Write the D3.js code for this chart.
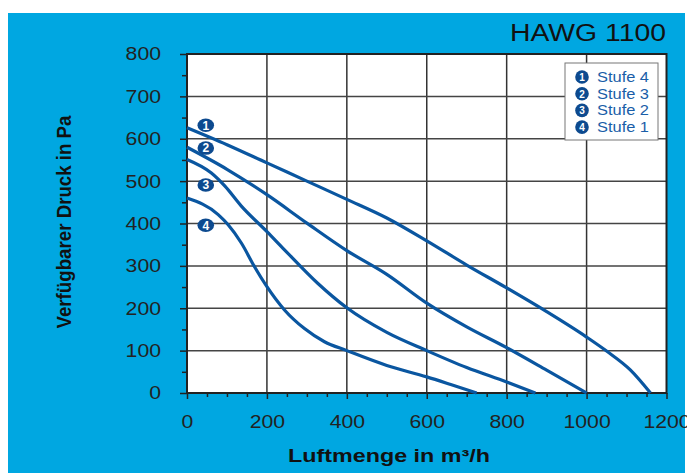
<!DOCTYPE html>
<html><head><meta charset="utf-8">
<script src="https://cdn.jsdelivr.net/npm/d3@7"></script>
<style>body{margin:0;background:#fff}svg{display:block}</style>
</head><body>
<script>
const title = "HAWG 1100";
const xLabel = "Luftmenge in m³/h";
const yLabel = "Verfügbarer Druck in Pa";
const xTicks = [0,200,400,600,800,1000,1200];
const yTicks = [0,100,200,300,400,500,600,700,800];
const seriesNames = ["Stufe 4","Stufe 3","Stufe 2","Stufe 1"];
const stufe4 = [[0,626],[100,586],[200,543],[300,500],[400,457],[500,413],[600,359],[700,302],[800,248],[900,192],[1000,132],[1050,99],[1110,54],[1160,0]];
const stufe3 = [[0,580],[100,528],[200,468],[300,401],[400,336],[500,280],[600,212],[700,156],[800,107],[900,54],[1000,0]];
const stufe2 = [[0,551],[61,519],[95,488],[136,441],[200,381],[244,338],[327,259],[400,201],[500,143],[600,100],[700,60],[800,26],[872,0]];
const stufe1 = [[0,460],[78,421],[103,397],[136,354],[169,298],[200,251],[244,196],[294,152],[344,121],[400,100],[500,65],[600,38],[660,20],[725,0]];
const series = [stufe4, stufe3, stufe2, stufe1];
const labelPos = [[47,632],[47,578],[47,491],[47,396]];

const W=687,H=473;
const svg=d3.select("body").append("svg").attr("width",W).attr("height",H);
svg.append("rect").attr("x",8).attr("y",13).attr("width",677).attr("height",460).attr("fill","#00a7e1");
const x=d3.scaleLinear().domain([0,1200]).range([187,666.5]);
const y=d3.scaleLinear().domain([0,800]).range([393,54]);
svg.append("rect").attr("x",x(0)).attr("y",y(800)).attr("width",x(1200)-x(0)).attr("height",y(0)-y(800)).attr("fill","#fff");
// grid
svg.append("g").selectAll("line").data(xTicks.slice(1,-1)).join("line")
 .attr("x1",d=>x(d)).attr("x2",d=>x(d)).attr("y1",y(800)).attr("y2",y(0)).attr("stroke","#333").attr("stroke-width",1.5);
svg.append("g").selectAll("line").data(yTicks.slice(1,-1)).join("line")
 .attr("y1",d=>y(d)).attr("y2",d=>y(d)).attr("x1",x(0)).attr("x2",x(1200)).attr("stroke","#444").attr("stroke-width",1.5);
// frame
svg.append("rect").attr("x",x(0)).attr("y",y(800)).attr("width",x(1200)-x(0)).attr("height",y(0)-y(800)).attr("fill","none").attr("stroke","#222").attr("stroke-width",2);
// axes
const font="Liberation Sans, Arial, sans-serif";
const fmt=d3.format("d");
const xMinor=d3.range(0,1201,50);
const yMinor=d3.range(0,801,50);
const xa=svg.append("g").attr("transform",`translate(0,${y(0)})`).call(d3.axisBottom(x).tickValues(xMinor).tickSize(4).tickFormat(""));
xa.select(".domain").remove();
xa.selectAll(".tick line").attr("stroke","#222").attr("stroke-width",1.5).attr("y2",d=>d%200===0?6:4);
const xb=svg.append("g").attr("transform",`translate(0,${y(0)})`).call(d3.axisBottom(x).tickValues(xTicks).tickSize(0).tickPadding(22).tickFormat(fmt));
xb.select(".domain").remove();
xb.selectAll("text").attr("font-family",font).attr("font-size",18.5).attr("fill","#222")
 .attr("textLength",d=>fmt(d).length*11.8).attr("lengthAdjust","spacingAndGlyphs");
const ya=svg.append("g").attr("transform",`translate(${x(0)},0)`).call(d3.axisLeft(y).tickValues(yMinor).tickSize(6).tickFormat(""));
ya.select(".domain").remove();
ya.selectAll(".tick line").attr("stroke","#222").attr("stroke-width",1.5).attr("x2",d=>d%100===0?-7:-5);
const yb=svg.append("g").attr("transform",`translate(${x(0)},0)`).call(d3.axisLeft(y).tickValues(yTicks).tickSize(0).tickPadding(26).tickFormat(fmt));
yb.select(".domain").remove();
yb.selectAll("text").attr("font-family",font).attr("font-size",18.5).attr("fill","#222")
 .attr("textLength",d=>fmt(d).length*11.8).attr("lengthAdjust","spacingAndGlyphs");
// curves
const line=d3.line().x(d=>x(d[0])).y(d=>y(d[1])).curve(d3.curveMonotoneX);
const blue="#0a56a0";
svg.append("g").selectAll("path").data(series).join("path")
 .attr("d",line).attr("fill","none").attr("stroke",blue).attr("stroke-width",3.2);
// labels on curves
const lg=svg.append("g").selectAll("g").data(labelPos).join("g").attr("transform",d=>`translate(${x(d[0])},${y(d[1])})`);
lg.append("ellipse").attr("rx",8.3).attr("ry",6.8).attr("fill","#0d4a8f");
lg.append("text").text((d,i)=>i+1).attr("text-anchor","middle").attr("dy",4.3).attr("font-family",font).attr("font-weight","bold").attr("font-size",12).attr("fill","#fff");
// legend
svg.append("rect").attr("x",565).attr("y",63).attr("width",93).attr("height",77).attr("fill","#fff").attr("stroke","#777").attr("stroke-width",1);
const le=svg.append("g").selectAll("g").data(seriesNames).join("g").attr("transform",(d,i)=>`translate(582,${77+i*16.7})`);
le.append("circle").attr("r",6.8).attr("fill","#0d4a8f");
le.append("text").text((d,i)=>i+1).attr("text-anchor","middle").attr("dy",3.8).attr("font-family",font).attr("font-weight","bold").attr("font-size",10).attr("fill","#fff");
le.append("text").text(d=>d).attr("x",15).attr("dy",5).attr("font-family",font).attr("font-size",14.5)
 .attr("textLength",52).attr("lengthAdjust","spacingAndGlyphs").attr("fill","#1a5ea8");
// title
svg.append("text").text(title).attr("x",666).attr("y",41).attr("text-anchor","end").attr("font-family",font).attr("font-size",23)
 .attr("textLength",156).attr("lengthAdjust","spacingAndGlyphs").attr("fill","#111");
// axis labels
svg.append("text").text(xLabel).attr("x",389).attr("y",462).attr("text-anchor","middle").attr("font-family",font).attr("font-weight","bold").attr("font-size",18)
 .attr("textLength",202).attr("lengthAdjust","spacingAndGlyphs").attr("fill","#111");
svg.append("text").text(yLabel).attr("transform","translate(71,222) rotate(-90)").attr("text-anchor","middle").attr("font-family",font).attr("font-weight","bold").attr("font-size",21)
 .attr("textLength",213).attr("lengthAdjust","spacingAndGlyphs").attr("fill","#111");
</script>
</body></html>
